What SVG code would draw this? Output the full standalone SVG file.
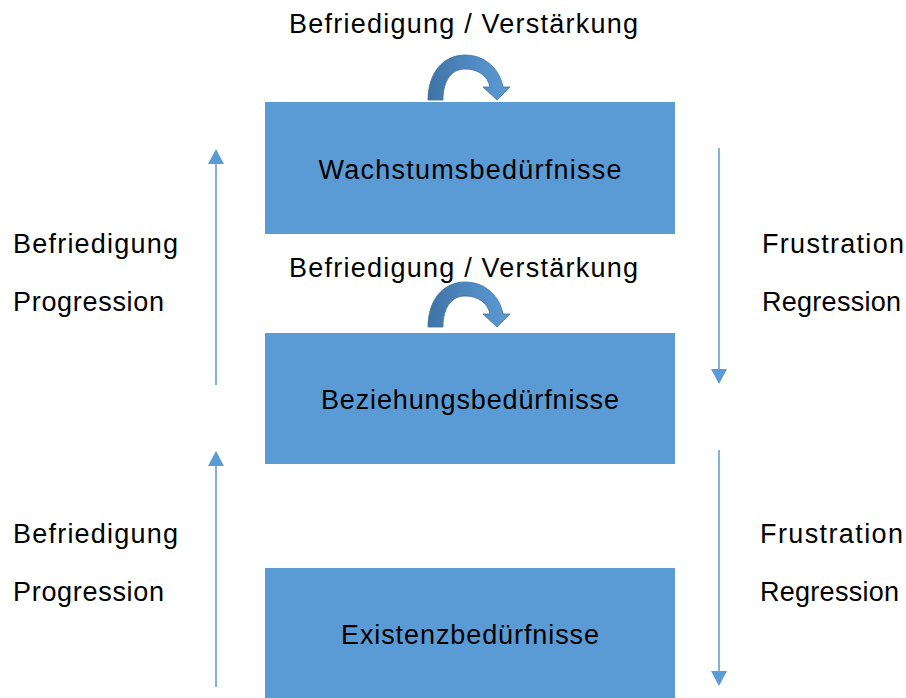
<svg xmlns="http://www.w3.org/2000/svg" width="906" height="698" viewBox="0 0 906 698">
<defs>
<linearGradient id="cg" x1="0" y1="0" x2="1" y2="0">
<stop offset="0" stop-color="#3F73A6"/>
<stop offset="0.5" stop-color="#4F88C0"/>
<stop offset="1" stop-color="#5B9BD5"/>
</linearGradient>
<path id="curl" d="M428,100 C428,72 444,55 465,55 C486,55 500,70 503,87 L510,87 L497,100 L483,87 L490,87 C488,76 478,69 465,69 C452,69 443,80 443,100 Z"/>
</defs>
<style>
.box{fill:#5B9BD5}
.t{font-family:"Liberation Sans","Open Sans",sans-serif;font-size:27px;fill:#000}
.c{text-anchor:middle}
.ln{stroke:#80B1E0;stroke-width:2;fill:none}
.hd{fill:#5B9BD5}
.curl{fill:url(#cg);stroke:#41719C;stroke-width:0.8}
</style>
<rect width="906" height="698" fill="#fff"/>
<g id="wachstum">
<rect class="box" x="265" y="102" width="410" height="132"/>
<text class="t c" x="470" y="179" textLength="303">Wachstumsbedürfnisse</text>
</g>
<g id="beziehung">
<rect class="box" x="265" y="333" width="410" height="131"/>
<text class="t c" x="470" y="409" textLength="298">Beziehungsbedürfnisse</text>
</g>
<g id="existenz">
<rect class="box" x="265" y="568" width="410" height="130"/>
<text class="t c" x="470" y="644" textLength="258">Existenzbedürfnisse</text>
</g>
<g id="connectors">
<g id="loop1">
<use href="#curl" class="curl"/>
<text class="t" x="289" y="33" textLength="349">Befriedigung / Verstärkung</text>
</g>
<g id="loop2">
<use href="#curl" class="curl" transform="translate(0,227)"/>
<text class="t" x="289" y="277" textLength="349">Befriedigung / Verstärkung</text>
</g>
<g id="up1">
<line class="ln" x1="216" y1="385" x2="216" y2="162"/>
<polygon class="hd" points="216,149 224,164 208,164"/>
</g>
<g id="up2">
<line class="ln" x1="216" y1="687" x2="216" y2="464"/>
<polygon class="hd" points="216,451 224,466 208,466"/>
</g>
<g id="down1">
<line class="ln" x1="719" y1="148" x2="719" y2="371"/>
<polygon class="hd" points="719,384 727,369 711,369"/>
</g>
<g id="down2">
<line class="ln" x1="719" y1="450" x2="719" y2="673"/>
<polygon class="hd" points="719,686 727,671 711,671"/>
</g>
</g>
<g id="labels">
<text class="t" x="13" y="253" textLength="165">Befriedigung</text>
<text class="t" x="13" y="311" textLength="151">Progression</text>
<text class="t" x="762" y="253" textLength="142">Frustration</text>
<text class="t" x="762" y="311" textLength="139">Regression</text>
<text class="t" x="13" y="543" textLength="165">Befriedigung</text>
<text class="t" x="13" y="601" textLength="151">Progression</text>
<text class="t" x="760" y="543" textLength="143">Frustration</text>
<text class="t" x="760" y="601" textLength="139">Regression</text>
</g>
</svg>
